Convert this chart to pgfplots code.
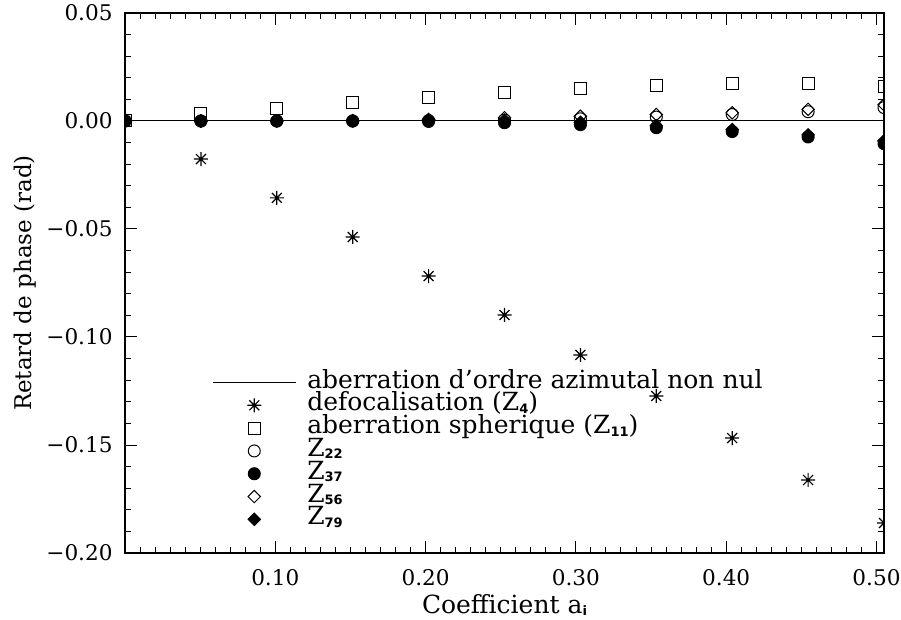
\documentclass[border=0pt]{standalone}
\usepackage{pgfplots}
\pgfplotsset{compat=1.18}
\usepackage{fontspec}
\setmainfont{DejaVu Serif}
\newfontfamily\subfont{DejaVu Sans}
% small IDL-like subscript
\newcommand\zs[1]{\raisebox{-1.2pt}{\subfont\bfseries\fontsize{6.5pt}{6.5pt}\selectfont #1}}

% IDL-style asterisk: + and x together
\pgfdeclareplotmark{idlstar}{%
  \pgfpathmoveto{\pgfqpoint{0pt}{\pgfplotmarksize}}%
  \pgfpathlineto{\pgfqpoint{0pt}{-\pgfplotmarksize}}%
  \pgfpathmoveto{\pgfqpoint{\pgfplotmarksize}{0pt}}%
  \pgfpathlineto{\pgfqpoint{-\pgfplotmarksize}{0pt}}%
  \pgfpathmoveto{\pgfqpoint{0.707\pgfplotmarksize}{0.707\pgfplotmarksize}}%
  \pgfpathlineto{\pgfqpoint{-0.707\pgfplotmarksize}{-0.707\pgfplotmarksize}}%
  \pgfpathmoveto{\pgfqpoint{-0.707\pgfplotmarksize}{0.707\pgfplotmarksize}}%
  \pgfpathlineto{\pgfqpoint{0.707\pgfplotmarksize}{-0.707\pgfplotmarksize}}%
  \pgfusepathqstroke}

\begin{document}
\begin{tikzpicture}
\begin{axis}[
    scale only axis,
    width=379.5pt, height=270pt,
    xmin=0, xmax=0.505,
    ymin=-0.20, ymax=0.05,
    axis line style={line width=0.8pt},
    tick style={line width=0.5pt, black},
    tick align=inside,
    major tick length=6pt, minor tick length=3pt,
    xtick={0.1,0.2,0.3,0.4,0.5},
    xticklabels={0.10,0.20,0.30,0.40,0.50},
    minor xtick={0.01,0.02,...,0.5},
    ytick={-0.20,-0.15,-0.10,-0.05,0,0.05},
    yticklabels={−0.20,−0.15,−0.10,−0.05,0.00,0.05},
    minor ytick={-0.19,-0.18,...,0.049},
    ticklabel style={font=\fontsize{10.8pt}{12pt}\selectfont},
    xticklabel style={anchor=center, yshift=-12.5pt},
    yticklabel style={anchor=east, inner sep=0pt, xshift=-6pt},
    every axis x label/.style={at={(axis description cs:0.5,0)}, yshift=-26pt, anchor=center,
        font=\fontsize{12.5pt}{14pt}\selectfont},
    every axis y label/.style={at={(axis description cs:0,0.5)}, xshift=-50pt, rotate=90, anchor=center,
        font=\fontsize{11.5pt}{13pt}\selectfont},
    xlabel={Coefficient a\zs{i}},
    ylabel={Retard de phase (rad)},
    clip mode=individual,
    clip marker paths=true,
    legend image code/.code={\draw[mark repeat=2,mark phase=2,#1]
        plot coordinates {(0pt,0pt) (20.75pt,0pt) (41.5pt,0pt)};},
    legend style={draw=none, fill=none, inner sep=0pt,
        at={(axis cs:0.0578,-0.1165)}, anchor=north west,
        font=\fontsize{12.5pt}{14pt}\selectfont,
        row sep=1.9pt,
        nodes={inner xsep=5.5pt, inner ysep=0pt, text height=7.5pt, text depth=2pt}},
    legend cell align=left,
]
\addplot[black, line width=0.5pt] coordinates {(0,0) (0.505,0)};
\addlegendentry{aberration d'ordre azimutal non nul}

\addplot[only marks, mark=idlstar, mark size=3.5pt, line width=0.6pt] coordinates {
(0,0) (0.0505,-0.0176) (0.101,-0.0356) (0.1515,-0.0537) (0.202,-0.0718) (0.2525,-0.0898)
(0.303,-0.1083) (0.3535,-0.1273) (0.404,-0.1468) (0.4545,-0.1662) (0.505,-0.1861)};
\addlegendentry{defocalisation (Z\zs{4})}

\addplot[only marks, mark=square, mark size=3pt, line width=0.5pt] coordinates {
(0,0) (0.0505,0.0035) (0.101,0.0059) (0.1515,0.0084) (0.202,0.0111) (0.2525,0.0134)
(0.303,0.0151) (0.3535,0.0165) (0.404,0.0172) (0.4545,0.0172) (0.505,0.0162)};
\addlegendentry{aberration spherique (Z\zs{11})}

\addplot[only marks, mark=o, mark size=3pt, line width=0.5pt] coordinates {
(0,0) (0.0505,0) (0.101,0) (0.1515,0) (0.202,0.0002) (0.2525,0.0005)
(0.303,0.0010) (0.3535,0.0018) (0.404,0.0030) (0.4545,0.0043) (0.505,0.0062)};
\addlegendentry{Z\zs{22}}

\addplot[only marks, mark=*, mark size=3pt, line width=0.5pt] coordinates {
(0,0) (0.0505,0) (0.101,0) (0.1515,0) (0.202,-0.0002) (0.2525,-0.0008)
(0.303,-0.0017) (0.3535,-0.0031) (0.404,-0.0049) (0.4545,-0.0074) (0.505,-0.0105)};
\addlegendentry{Z\zs{37}}

\addplot[only marks, mark=square, mark options={rotate=45}, mark size=2.2pt, line width=0.5pt] coordinates {
(0,0) (0.0505,0) (0.101,0) (0.1515,0.0002) (0.202,0.0007) (0.2525,0.0015)
(0.303,0.0022) (0.3535,0.0030) (0.404,0.0038) (0.4545,0.0054) (0.505,0.0075)};
\addlegendentry{Z\zs{56}}

\addplot[only marks, mark=square*, mark options={rotate=45}, mark size=2.2pt, line width=0.5pt] coordinates {
(0,0) (0.0505,0) (0.101,0) (0.1515,0) (0.202,0.0002) (0.2525,0.0003)
(0.303,-0.0006) (0.3535,-0.0022) (0.404,-0.0040) (0.4545,-0.0064) (0.505,-0.0092)};
\addlegendentry{Z\zs{79}}
\end{axis}
\pgfresetboundingbox
\path ([shift={(-62.5pt,-33pt)}]current axis.south west) rectangle ([shift={(8.5pt,6.5pt)}]current axis.north east);
\end{tikzpicture}
\end{document}
